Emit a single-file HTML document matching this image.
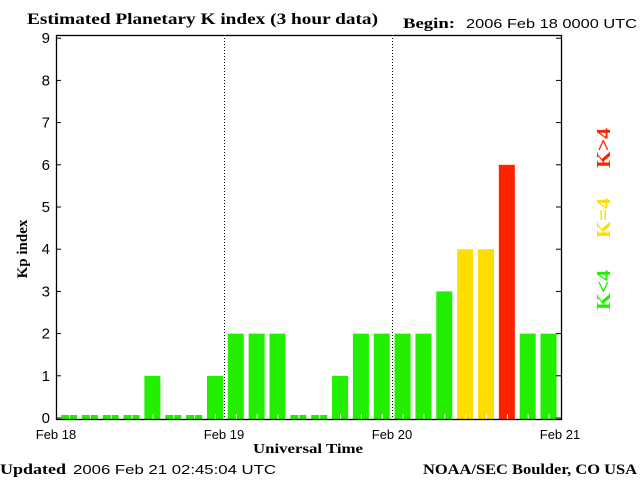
<!DOCTYPE html>
<html><head><meta charset="utf-8"><style>
body{margin:0;background:#fff;}
svg{display:block;}
text{font-family:"Liberation Sans",sans-serif;}
.ser{font-family:"Liberation Serif",serif;font-weight:bold;}
</style></head><body>
<svg id="chart" width="640" height="480" viewBox="0 0 640 480">
<text class="ser" x="27" y="24" font-size="16" textLength="351" lengthAdjust="spacingAndGlyphs">Estimated Planetary K index (3 hour data)</text>
<text class="ser" x="403" y="28" font-size="15" textLength="52" lengthAdjust="spacingAndGlyphs">Begin:</text>
<text x="466" y="28" font-size="13" textLength="171" lengthAdjust="spacingAndGlyphs">2006 Feb 18 0000 UTC</text>
<text class="ser" x="0" y="474" font-size="15" textLength="66" lengthAdjust="spacingAndGlyphs">Updated</text>
<text x="73" y="474" font-size="13" textLength="203" lengthAdjust="spacingAndGlyphs">2006 Feb 21 02:45:04 UTC</text>
<text class="ser" x="423" y="474" font-size="15" textLength="214" lengthAdjust="spacingAndGlyphs">NOAA/SEC Boulder, CO USA</text>
<text class="ser" x="253" y="453" font-size="14" textLength="110" lengthAdjust="spacingAndGlyphs">Universal Time</text>
<text class="ser" transform="translate(27,249) rotate(-90)" font-size="15" text-anchor="middle">Kp index</text>
<text class="ser" transform="translate(610,148) rotate(-90)" font-size="20" fill="#ff2200" text-anchor="middle" textLength="40" lengthAdjust="spacingAndGlyphs">K&gt;4</text>
<text class="ser" transform="translate(610,218) rotate(-90)" font-size="20" fill="#ffdd00" text-anchor="middle" textLength="40" lengthAdjust="spacingAndGlyphs">K=4</text>
<text class="ser" transform="translate(610,290) rotate(-90)" font-size="20" fill="#22ee00" text-anchor="middle" textLength="40" lengthAdjust="spacingAndGlyphs">K&lt;4</text>
<g id="bars"></g>
<g id="axes"></g>
</svg>
<script>
const kpValues=[0,0,0,0,1,0,0,1, 2,2,2,0,0,1,2,2, 2,2,3,4,4,6,2,2];
const yTicks=[0,1,2,3,4,5,6,7,8,9];
const dayLabels=["Feb 18","Feb 19","Feb 20","Feb 21"];
const NS="http://www.w3.org/2000/svg";
const L=56,R=561,T=35,B=419;
const y0=418,unit=42.2;
function yScale(v){return y0-v*unit;}
function xDay(d){return L+d*168;}
function xBin(i){return 61+i*20.85;}
function mk(tag,attrs,parent){const e=document.createElementNS(NS,tag);for(const k in attrs)e.setAttribute(k,attrs[k]);parent.appendChild(e);return e;}
const bars=document.getElementById('bars'),axes=document.getElementById('axes');
kpValues.forEach((v,i)=>{
  const col=v>4?'#ff2200':(v===4?'#ffdd00':'#22ee00');
  const top=v===0?y0-3:yScale(v);
  const r=mk('rect',{x:xBin(i),y:top,width:16,height:B-top,fill:col},bars);
  
  
  const t=mk('line',{x1:xBin(i)+8.5,x2:xBin(i)+8.5,y1:B-5,y2:B,stroke:'#fff','stroke-width':1},bars);
  
  
});
[1,2].forEach(d=>{
  const l=mk('line',{x1:xDay(d)+0.5,x2:xDay(d)+0.5,y1:T,y2:B,stroke:'#000','stroke-dasharray':'1,2'},axes);
  
  
});
const frame=mk('rect',{x:L+0.5,y:T+0.5,width:R-L,height:B-T,fill:'none',stroke:'#000','stroke-width':1.3},axes);


yTicks.forEach(v=>{
  const y=yScale(v);
  mk('line',{x1:L,x2:L+5,y1:y,y2:y,stroke:'#000'},axes);
  mk('line',{x1:R-5,x2:R,y1:y,y2:y,stroke:'#000'},axes);
  const t=mk('text',{x:L-6,y:y+5,'font-size':15,'text-anchor':'end'},axes);
  t.textContent=v;
  
  
});
dayLabels.forEach((s,d)=>{
  const t=mk('text',{x:xDay(d),y:439,'font-size':13,'text-anchor':'middle'},axes);
  t.textContent=s;
  
  
});
</script>
</body></html>
